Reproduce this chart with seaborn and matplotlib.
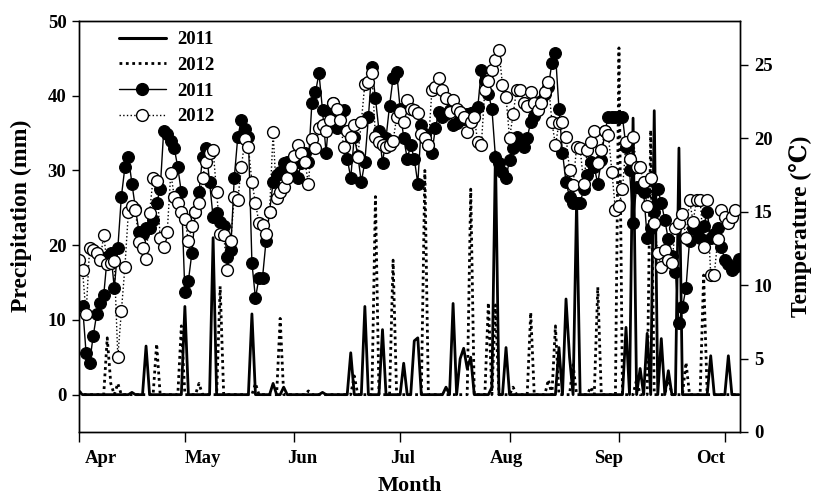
import numpy as np
import pandas as pd
import matplotlib
matplotlib.use("Agg")
import matplotlib.pyplot as plt
import seaborn as sns
from matplotlib.lines import Line2D

# ---------------- data ----------------
months = ["Apr", "May", "Jun", "Jul", "Aug", "Sep", "Oct"]
month_start_day = [0, 30, 61, 91, 122, 153, 183]
month_label_day = [6.2, 35.1, 63.2, 91.8, 121.0, 150.1, 179.0]

# daily rain events (day index from 1 April, mm)
rain2011_days = [0, 15, 19, 30, 38, 49, 55, 58, 69, 77, 81, 86, 92, 95, 96, 104, 106, 108, 109, 110, 111,
                 117, 118, 121, 136, 138, 139, 141, 155, 157, 159, 161, 163, 165, 167, 170, 179, 184]
rain2011_mm = [0.4, 0.3, 6.5, 11.8, 21.0, 10.8, 1.5, 1.0, 0.3, 5.6, 11.8, 8.7, 4.2, 7.2, 7.6, 1.0, 12.2, 4.8, 6.2, 3.5, 5.0,
               1.0, 32.5, 6.3, 6.3, 12.8, 5.0, 26.0, 9.0, 37.0, 3.5, 8.2, 38.0, 7.5, 3.2, 33.0, 5.2, 5.2]

rain2012_days = [0, 8, 9, 11, 22, 29, 34, 40, 50, 57, 65, 78, 84, 89, 98, 111, 116, 118, 123, 128,
                 133, 135, 140, 145, 147, 153, 158, 162, 167, 172, 177]
rain2012_mm = [0.5, 7.6, 1.5, 1.5, 6.8, 9.2, 1.5, 14.5, 1.5, 10.2, 0.5, 2.5, 26.5, 18.0, 30.0, 27.5, 12.3, 12.0, 1.0, 11.0,
               2.0, 9.2, 4.0, 1.0, 14.4, 46.4, 2.0, 35.4, 2.3, 4.3, 16.0]

# daily mean temperature (degC); 2011 starts on day 1, 2012 on day 0
temp2011 = [8.6, 5.4, 4.7, 6.5, 8.0, 8.8, 9.3, 11.9, 12.2, 9.8,
            12.5, 16.0, 18.0, 18.7, 16.9, 15.2, 13.6, 13.5, 13.9, 13.9,
            14.4, 15.6, 16.5, 20.5, 20.3, 19.8, 19.3, 18.0, 16.3, 9.5,
            10.3, 12.2, 15.0, 16.3, 18.7, 19.3, 17.0, 14.6, 14.9, 14.3,
            14.0, 11.9, 12.4, 17.3, 20.1, 21.2, 20.6, 20.1, 11.5, 9.1,
            10.5, 10.5, 13.0, 15.0, 17.0, 17.5, 17.7, 18.3, 18.4, 18.0,
            17.5, 17.3, 18.3, 19.0, 18.4, 22.4, 23.1, 24.4, 21.9, 19.0,
            21.7, 22.4, 20.7, 21.6, 21.9, 18.6, 17.3, 20.1, 18.8, 17.0,
            18.4, 21.4, 24.8, 22.7, 20.5, 18.3, 20.0, 22.2, 24.1, 24.5,
            22.0, 20.0, 18.6, 19.5, 18.6, 16.9, 20.9, 20.3, 19.5, 19.0,
            20.7, 21.8, 21.4, 21.6, 21.9, 20.9, 21.0, 21.2, 21.3, 21.6,
            21.7, 21.8, 22.1, 24.6, 23.9, 23.0, 22.0, 18.7, 18.3, 17.7,
            17.3, 18.5, 19.3, 20.1, 19.7, 19.4, 20.0, 21.1, 21.5, 22.0,
            22.5, 23.0, 23.5, 25.1, 25.8, 22.0, 19.0, 17.0, 16.0, 15.6,
            15.6, 15.6, 16.5, 17.5, 18.4, 18.0, 16.9, 18.5, 20.5, 21.4,
            21.4, 21.4, 21.4, 21.4, 19.4, 17.8, 14.2, 16.7, 16.6, 16.3,
            13.2, 13.9, 15.0, 16.5, 15.6, 14.4, 13.1, 12.0, 10.9, 7.4,
            8.5, 9.8, 13.0, 13.9, 13.7, 13.2, 14.0, 15.0, 13.2, 13.5,
            13.9, 12.6, 11.7, 11.4, 11.0, 11.2, 11.8]

temp2012 = [11.7, 11.0, 8.0, 12.5, 12.4, 12.2, 11.7, 13.4, 11.4, 11.5,
            11.6, 5.1, 8.2, 11.2, 15.0, 15.4, 15.1, 12.9, 12.5, 11.8,
            14.9, 17.3, 17.1, 13.2, 12.6, 13.6, 17.6, 16.0, 15.6, 15.0,
            14.5, 13.0, 14.0, 15.0, 15.6, 17.3, 18.4, 19.0, 19.2, 16.3,
            13.5, 13.4, 11.0, 13.0, 16.0, 15.8, 18.0, 19.9, 19.4, 17.0,
            15.6, 14.2, 14.1, 13.5, 15.0, 20.4, 15.9, 16.3, 16.7, 17.3,
            18.0, 18.8, 19.5, 19.0, 18.4, 16.9, 19.9, 19.3, 20.7, 20.9,
            20.5, 21.2, 22.4, 22.0, 21.2, 19.4, 20.5, 20.1, 20.9, 18.7,
            21.1, 23.7, 23.8, 24.4, 20.1, 19.7, 19.5, 19.4, 19.5, 19.8,
            21.4, 21.8, 21.1, 22.6, 22.0, 21.9, 21.7, 20.3, 20.0, 19.5,
            23.3, 23.5, 24.1, 23.3, 22.7, 21.8, 22.6, 22.0, 21.8, 21.4,
            20.4, 21.1, 21.4, 19.7, 19.5, 23.3, 23.9, 24.6, 25.3, 26.0,
            23.6, 22.8, 20.0, 21.6, 23.3, 23.3, 22.4, 22.2, 23.1, 22.4,
            21.9, 22.4, 23.1, 23.8, 21.1, 19.5, 21.0, 21.1, 20.1, 17.8,
            16.8, 19.4, 19.3, 16.9, 19.2, 19.7, 20.5, 18.3, 19.2, 20.5,
            20.2, 17.7, 15.1, 15.4, 16.5, 19.7, 18.6, 20.1, 18.0, 18.0,
            17.0, 15.4, 17.3, 14.2, 12.2, 11.2, 12.4, 11.7, 11.5, 13.9,
            14.2, 14.8, 13.2, 15.8, 14.3, 15.8, 15.8, 12.6, 15.8, 10.7,
            10.7, 13.1, 15.1, 14.6, 14.2, 14.6, 15.1]

n_days = 188
days = np.arange(n_days)
p2011 = np.zeros(n_days)
p2011[rain2011_days] = rain2011_mm
p2012 = np.zeros(n_days)
p2012[rain2012_days] = rain2012_mm

df_p = pd.DataFrame({"day": days, "p2011": p2011, "p2012": p2012})
df_t11 = pd.DataFrame({"day": np.arange(1, 1 + len(temp2011)), "t": temp2011})
df_t12 = pd.DataFrame({"day": np.arange(0, len(temp2012)), "t": temp2012})

# ---------------- style ----------------
sns.set_style("ticks")
plt.rcParams["font.family"] = ["Liberation Serif", "DejaVu Serif"]
plt.rcParams["font.weight"] = "bold"
plt.rcParams["axes.labelweight"] = "bold"
plt.rcParams["axes.edgecolor"] = "black"
plt.rcParams["axes.labelcolor"] = "black"
plt.rcParams["text.color"] = "black"
plt.rcParams["xtick.color"] = "black"
plt.rcParams["ytick.color"] = "black"
plt.rcParams["xtick.labelcolor"] = "black"
plt.rcParams["ytick.labelcolor"] = "black"

fig = plt.figure(figsize=(8.15, 4.97), dpi=100)
ax = fig.add_axes([79 / 815, 1 - 432 / 497, (740 - 79) / 815, (432 - 21) / 497])
ax2 = ax.twinx()

dot = (0, (1.0, 1.3))
sns.lineplot(data=df_p, x="day", y="p2011", ax=ax, color="black", linewidth=2.0, sort=False)
sns.lineplot(data=df_p, x="day", y="p2012", ax=ax, color="black", linewidth=2.0, linestyle=dot, sort=False)

sns.lineplot(data=df_t11, x="day", y="t", ax=ax2, color="black", linewidth=1.0, marker="o",
             markersize=8.5, markerfacecolor="black", markeredgecolor="black", markeredgewidth=0.8, sort=False)
sns.lineplot(data=df_t12, x="day", y="t", ax=ax2, color="black", linewidth=1.0, linestyle=":", marker="o",
             markersize=8.5, markerfacecolor="white", markeredgecolor="black", markeredgewidth=1.0, sort=False)

# axes limits / ticks
ax.set_xlim(0, 187.3)
ax.set_ylim(-5, 50)
ax2.set_ylim(0, 27.96)
ax.set_yticks([0, 10, 20, 30, 40, 50])
ax2.set_yticks([0, 5, 10, 15, 20, 25])
ax.set_xticks(month_start_day)
ax.set_xticklabels([""] * len(month_start_day))
ax.set_xticks(month_label_day, minor=True)
ax.set_xticklabels(months, minor=True)
ax.tick_params(axis="x", which="major", direction="out", length=7, width=1)
ax.tick_params(axis="x", which="minor", length=0, pad=13, labelsize=13.5)
ax.tick_params(axis="y", direction="out", length=5, width=1, labelsize=13.5, pad=4)
ax2.tick_params(axis="y", direction="out", length=6, width=1, labelsize=13.5, pad=4)
for lab in ax.get_xticklabels(minor=True) + ax.get_yticklabels() + ax2.get_yticklabels():
    lab.set_fontweight("bold")
    lab.set_color("black")

for a in (ax, ax2):
    for s in a.spines.values():
        s.set_visible(True)
        s.set_linewidth(1.0)
        s.set_color("black")

ax.set_xlabel("Month", fontsize=16, fontweight="bold", color="black")
ax.set_ylabel("Precipitation (mm)", fontsize=17, fontweight="bold", color="black")
ax2.set_ylabel("Temperature (\u2103)", fontsize=17, fontweight="bold", color="black", labelpad=12)
ax.xaxis.set_label_coords(0.5, -0.108)
ax.yaxis.set_label_coords(-0.071, 0.527)

handles = [
    Line2D([], [], color="black", linewidth=2.2),
    Line2D([], [], color="black", linewidth=2.0, linestyle=dot),
    Line2D([], [], color="black", linewidth=1.0, marker="o", markersize=8.5,
           markerfacecolor="black", markeredgecolor="black"),
    Line2D([], [], color="black", linewidth=1.0, linestyle=":", marker="o", markersize=8.5,
           markerfacecolor="white", markeredgecolor="black"),
]
leg = ax2.legend(handles, ["2011", "2012", "2011", "2012"], loc="upper left",
                 bbox_to_anchor=(0.045, 1.0), frameon=False, handlelength=2.5,
                 handletextpad=0.6, labelspacing=0.45, borderaxespad=0.15,
                 prop={"size": 13.5, "weight": "bold"})
for t in leg.get_texts():
    t.set_color("black")

fig.savefig("out.png", dpi=100)
